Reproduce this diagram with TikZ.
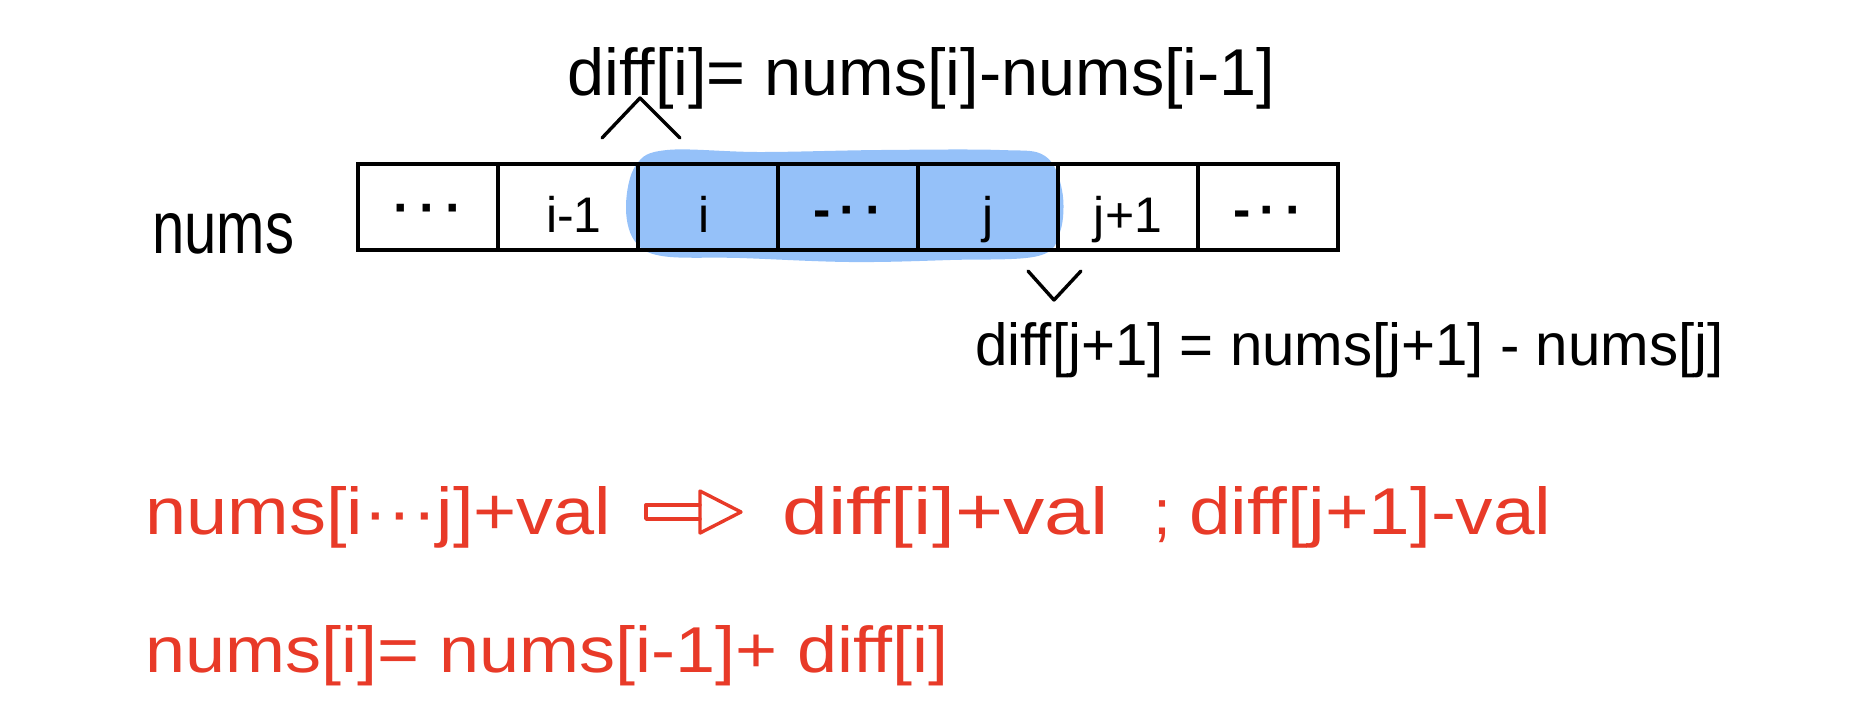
\documentclass[tikz,border=0pt]{standalone}
\usepackage{fontspec}
\setmainfont{Liberation Sans}[Ligatures={NoCommon}]
\usetikzlibrary{calc}
\definecolor{hlblue}{RGB}{149,193,249}
\definecolor{inkred}{RGB}{232,58,40}
% scale a text to a given width and height above the baseline
\newcommand{\fitwh}[3]{\resizebox{#1}{#2}{#3}}
\begin{document}
\begin{tikzpicture}[x=0.5pt,y=-0.5pt,
  cell/.style={draw=black, line width=1.6pt, minimum width=70pt, minimum height=43pt, inner sep=0pt, outer sep=0pt},
  lbl/.style={font=\fontsize{25}{27}\selectfont, inner sep=0pt, anchor=base},
  dots/.style={font=\bfseries\fontsize{26}{28}\selectfont, inner sep=0pt, anchor=base},
  txt/.style={inner sep=0pt, anchor=base west},
  redtxt/.style={txt, text=inkred},
  pointer/.style={line width=1.7pt, line cap=round, line join=round},
  redline/.style={draw=inkred, line width=1.7pt, line cap=round, line join=round}]
\useasboundingbox (0,0) rectangle (1859,720);

% highlighted range i..j
\fill[hlblue] plot[smooth cycle, tension=0.6] coordinates {(626,205) (636,165) (667,150) (760,152) (880,150) (1000,150) (1045,156) (1062,190) (1060,232) (1038,256) (950,260) (850,262) (740,258) (662,256) (634,240)};

% array cells
\foreach \k/\cx in {1/428,2/568,3/708,4/848,5/988,6/1128,7/1268}
  \node[cell] (c\k) at (\cx,207) {};

% cell labels
\node[dots] (l1) at ($(c1.center)+(0,18)$) {·\,·\,·};
\node[lbl] (l2) at ($(c2.center)+(6,25)$) {i-1};
\node[lbl] (l3) at ($(c3.center)+(-4,25)$) {i};
\node[dots] (l4) at ($(c4.center)+(0,20)$) {-\,·\,·};
\node[lbl] (l5) at ($(c5.center)+(0,25)$) {j};
\node[lbl] (l6) at ($(c6.center)+(0,25)$) {j+1};
\node[dots] (l7) at ($(c7.center)+(0,20)$) {-\,·\,·};

% array name
\node[txt] (name) at (152,253) {\fitwh{71pt}{20pt}{nums}};

% difference definitions
\node[txt] (dfi) at (567,95) {\fitwh{354pt}{24pt}{diff[i]= nums[i]-nums[i-1]}};
\node[txt] (dfj) at (975,365) {\fitwh{374pt}{21.5pt}{diff[j+1] = nums[j+1] - nums[j]}};

% pointers
\coordinate (pa) at (602,138);
\coordinate (pb) at (640,98);
\coordinate (pc) at (680,138);
\draw[pointer] (pa) -- (pb) -- (pc);
\coordinate (qa) at (1028,271);
\coordinate (qb) at (1054,300);
\coordinate (qc) at (1081,271);
\draw[pointer] (qa) -- (qb) -- (qc);

% range update rule
\node[redtxt] (upd) at (145,534) {\fitwh{233pt}{24pt}{nums[i···j]+val}};
\coordinate (ar1) at (646,505);
\coordinate (ar2) at (646,519);
\draw[redline] (700,505) -- (ar1) -- (ar2) -- (700,519);
\draw[redline] (700,491) -- (741,512) -- (700,533) -- cycle;
\node[redtxt] (upi) at (782,534) {\fitwh{163pt}{24pt}{diff[i]+val}};
\node[redtxt, font=\fontsize{32}{34}\selectfont] (semi) at (1153,534) {;};
\node[redtxt] (upj) at (1189,534) {\fitwh{181pt}{24pt}{diff[j+1]-val}};

% reconstruction rule
\node[redtxt] (rec) at (145,672) {\fitwh{401.5pt}{23.5pt}{nums[i]= nums[i-1]+ diff[i]}};
\end{tikzpicture}
\end{document}
